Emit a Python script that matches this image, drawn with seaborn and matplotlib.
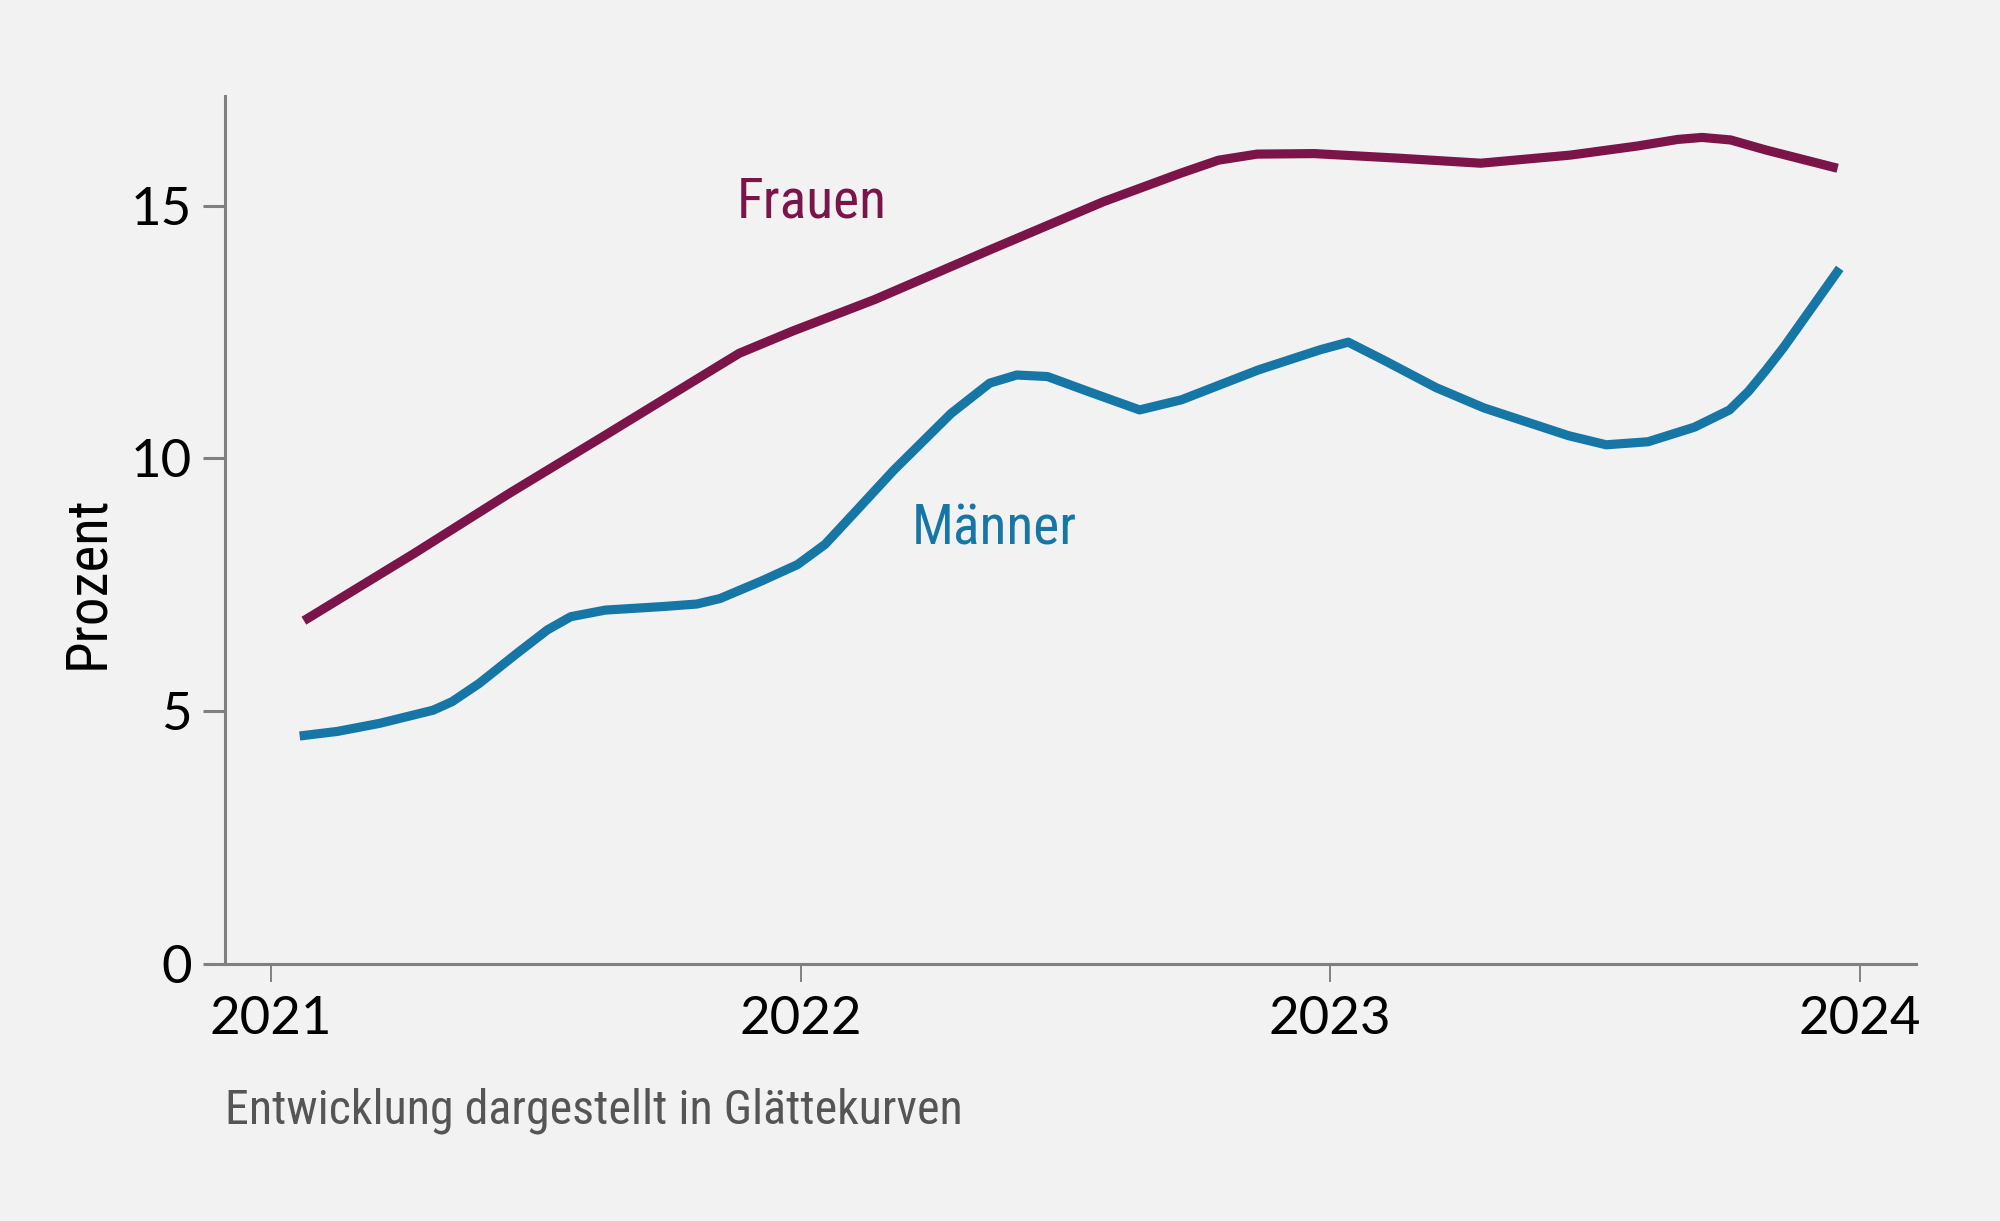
import pandas as pd
import matplotlib.pyplot as plt
import seaborn as sns

# Werte (Jahr als Dezimalzahl, Prozent)
jahr_frauen = [2021.062, 2021.270, 2021.450, 2021.631, 2021.812, 2021.884, 2021.985,
               2022.139, 2022.356, 2022.572, 2022.717, 2022.789, 2022.862, 2022.970,
               2023.128, 2023.284, 2023.453, 2023.580, 2023.656, 2023.702, 2023.756,
               2023.823, 2023.958]
frauen = [6.79, 8.12, 9.31, 10.46, 11.62, 12.08, 12.52,
          13.14, 14.12, 15.08, 15.64, 15.90, 16.02, 16.03,
          15.94, 15.84, 16.00, 16.18, 16.31, 16.35, 16.30,
          16.10, 15.74]

jahr_maenner = [2021.054, 2021.125, 2021.205, 2021.306, 2021.342, 2021.393, 2021.465,
                2021.522, 2021.566, 2021.631, 2021.739, 2021.804, 2021.848, 2021.927,
                2021.994, 2022.046, 2022.101, 2022.176, 2022.284, 2022.357, 2022.408,
                2022.466, 2022.552, 2022.640, 2022.719, 2022.864, 2022.981, 2023.034,
                2023.100, 2023.200, 2023.290, 2023.383, 2023.450, 2023.521, 2023.600,
                2023.688, 2023.754, 2023.790, 2023.823, 2023.857, 2023.924, 2023.962]
maenner = [4.51, 4.60, 4.76, 5.02, 5.19, 5.55, 6.15,
           6.61, 6.87, 7.00, 7.07, 7.12, 7.23, 7.58,
           7.90, 8.30, 8.92, 9.77, 10.89, 11.49, 11.65,
           11.62, 11.29, 10.96, 11.16, 11.75, 12.15, 12.30,
           11.95, 11.40, 11.00, 10.68, 10.45, 10.27, 10.33,
           10.62, 10.96, 11.33, 11.75, 12.21, 13.20, 13.76]

jahre = [2021, 2022, 2023, 2024]
y_ticks = [0, 5, 10, 15]

FARBEN = {'Frauen': '#7b1449', 'Männer': '#1677a6'}
BG = '#f2f2f2'
SCHMAL = ['Roboto Condensed', 'Liberation Sans Narrow', 'Roboto']

df = pd.concat([
    pd.DataFrame({'jahr': jahr_frauen, 'wert': frauen, 'gruppe': 'Frauen'}),
    pd.DataFrame({'jahr': jahr_maenner, 'wert': maenner, 'gruppe': 'Männer'}),
])

sns.set_style('ticks')
plt.rcParams['font.family'] = ['Lato', 'DejaVu Sans']

fig = plt.figure(figsize=(10, 6.105), dpi=200, facecolor=BG)
ax = fig.add_axes([0.1125, 0.2105, 0.8455, 0.7109])
ax.set_facecolor(BG)

sns.lineplot(data=df, x='jahr', y='wert', hue='gruppe', palette=FARBEN,
             linewidth=3.3, legend=False, ax=ax, sort=False)
for line in ax.get_lines():
    line.set_solid_capstyle('butt')
    line.set_solid_joinstyle('round')

ax.set_xlim(2020.913, 2024.106)
ax.set_ylim(0, 17.17)
ax.set_xticks(jahre)
ax.set_xticklabels([str(j) for j in jahre])
ax.set_yticks(y_ticks)
ax.set_yticklabels([str(v) for v in y_ticks])

for side in ['top', 'right']:
    ax.spines[side].set_visible(False)
for side in ['left', 'bottom']:
    ax.spines[side].set_color('#808080')
    ax.spines[side].set_linewidth(1.1)

ax.tick_params(axis='y', length=8, width=1.1, color='#808080', labelsize=19, pad=4, labelcolor='black')
ax.tick_params(axis='x', length=6.5, width=0.7, color='#808080', labelsize=19, pad=5, labelcolor='black')

ax.set_xlabel('')
ax.set_ylabel('Prozent', fontsize=20.5, family=SCHMAL, color='black')
ax.yaxis.set_label_coords(-0.065, 0.44)

ax.text(2021.88, 15.07, 'Frauen', color=FARBEN['Frauen'], fontsize=20,
        family=SCHMAL, va='center', ha='left')
ax.text(2022.21, 8.6, 'Männer', color=FARBEN['Männer'], fontsize=20,
        family=SCHMAL, va='center', ha='left')

fig.text(0.1125, 1 - 1111 / 1221, 'Entwicklung dargestellt in Glättekurven',
         color='#555555', fontsize=17.3, family=SCHMAL, va='center', ha='left')

fig.savefig('out.png', dpi=200, facecolor=BG)
